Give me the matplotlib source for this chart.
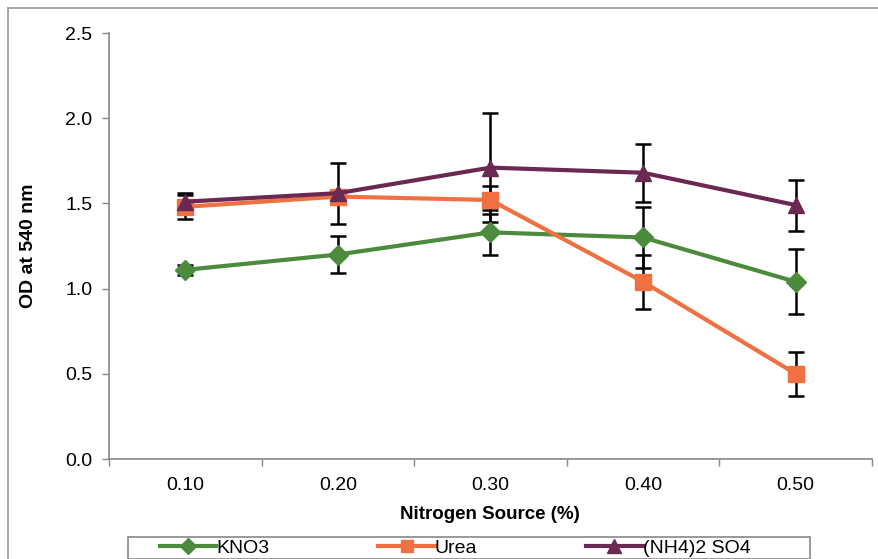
import matplotlib.pyplot as plt
from matplotlib.lines import Line2D
from matplotlib.patches import Rectangle
import numpy as np

plt.rcParams['font.family'] = ['Liberation Sans', 'DejaVu Sans']

conc = ['0.10', '0.20', '0.30', '0.40', '0.50']

kno3 = [1.11, 1.20, 1.33, 1.30, 1.04]
kno3_err = [0.03, 0.11, 0.13, 0.18, 0.19]

urea = [1.48, 1.54, 1.52, 1.04, 0.50]
urea_err = [0.07, 0.04, 0.08, 0.16, 0.13]

nh4 = [1.51, 1.56, 1.71, 1.68, 1.49]
nh4_err = [0.05, 0.18, 0.32, 0.17, 0.15]

series = [
    ('KNO3', kno3, kno3_err, '#4c8a3d', 'D', 10),
    ('Urea', urea, urea_err, '#ef7040', 's', 11),
    ('(NH4)2 SO4', nh4, nh4_err, '#6b2852', '^', 12),
]

W, H = 879, 559
fig = plt.figure(figsize=(W / 100, H / 100), dpi=100)
ax = fig.add_axes([109 / W, 1 - 459 / H, 763 / W, 426 / H])

x = np.arange(1, len(conc) + 1)
handles = []
for name, vals, err, col, mk, ms in series:
    ax.errorbar(x, vals, yerr=err, color=col, lw=3, marker=mk, ms=ms,
                mec=col, ecolor='black', elinewidth=1.8, capsize=6,
                capthick=1.8)
    handles.append(Line2D([], [], color=col, lw=3, marker=mk, ms=ms - 2,
                          mec=col, label=name))

ax.set_xlim(0.5, len(conc) + 0.5)
ax.set_ylim(0, 2.5)
yt = np.arange(0, 2.51, 0.5)
ax.set_yticks(yt)
ax.set_yticklabels(['%.1f' % v for v in yt])
ax.set_xticks(x)
ax.set_xticklabels(conc)
ax.set_xticks(np.arange(0.5, len(conc) + 1), minor=True)

ax.tick_params(axis='x', which='major', length=0, pad=13, labelsize=14)
ax.tick_params(axis='x', which='minor', length=5, color='#888888', width=1)
ax.tick_params(axis='y', length=5, color='#888888', width=1, pad=7, labelsize=14)

for s in ['top', 'right']:
    ax.spines[s].set_visible(False)
for s in ['left', 'bottom']:
    ax.spines[s].set_color('#888888')
    ax.spines[s].set_linewidth(1.2)

ax.set_xlabel('Nitrogen Source (%)', fontsize=13.5, fontweight='bold')
ax.xaxis.set_label_coords((490 - 109) / 763, (459 - 506) / 426)
ax.set_ylabel('OD at 540 nm', fontsize=14, fontweight='bold')
ax.yaxis.set_label_coords((37 - 109) / 763, 0.5)

# legend entries, with a hand-drawn frame wider than the entries
leg = fig.legend(handles=handles, loc='center left',
                 bbox_to_anchor=(160 / W, 1 - 548 / H),
                 ncol=3, fontsize=14, frameon=False,
                 handlelength=2.9, columnspacing=5.6, handletextpad=0.0,
                 borderpad=0, borderaxespad=0)
fig.add_artist(Rectangle((128 / W, 0), (810 - 128) / W, 1 - 537 / H,
                         transform=fig.transFigure, fill=False,
                         edgecolor='#888888', lw=1.2))

# outer chart border
fig.add_artist(Line2D([8 / W, 8 / W], [0, 1 - 8 / H], color='#999999', lw=1.2))
fig.add_artist(Line2D([8 / W, 1], [1 - 8 / H, 1 - 8 / H], color='#999999', lw=1.2))

fig.savefig('out.png', dpi=100)
